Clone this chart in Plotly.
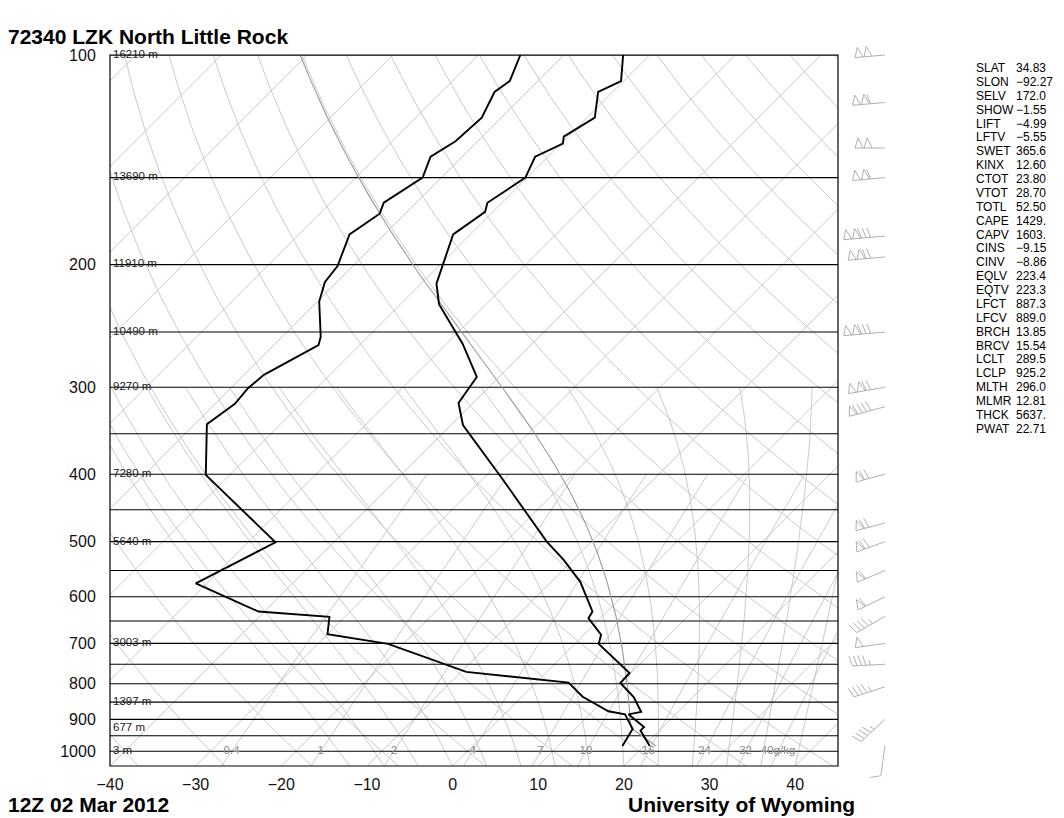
import numpy as np
import plotly.graph_objects as go

# ---- sounding: 72340 LZK 12Z 02 Mar 2012 ----
PRES_T = [983, 934, 923, 885, 878, 836, 798, 772, 701, 680, 644, 630, 610, 571, 531,
          500, 403, 340, 316, 290, 260, 228, 213, 181, 168, 163, 150, 140, 134, 131,
          123, 113, 109, 100]
TEMP = [20.7, 17.8, 17.8, 14.5, 15.7, 13.1, 9.9, 9.8, 2.8, 2.0, -1.4, -1.7, -3.3, -6.6, -11.1,
        -15.2, -28.2, -38.6, -41.7, -42.6, -48.1, -55.5, -58.2, -62.0, -60.9, -61.7, -60.2, -61.5,
        -59.8, -60.5, -59.1, -61.7, -60.3, -63.1]

PRES_TD = [983, 929, 885, 876, 835, 797, 769, 701, 679, 641, 630, 574, 501, 401, 339, 317,
           301, 288, 261, 254, 226, 212, 201, 181, 169, 163, 150, 140, 133, 123, 113, 109, 100]
DWPT = [17.5, 16.7, 14.1, 11.8, 7.1, 3.8, -9.4, -21.8, -30.0, -31.8, -40.7, -51.3, -46.8,
        -62.8, -68.6, -67.7, -68.0, -67.7, -64.8, -65.5, -69.8, -71.4, -71.8, -74.1, -73.0,
        -73.8, -72.2, -73.7, -72.6, -72.3, -73.8, -73.3, -75.1]

# mandatory level heights
HGT_P = [100, 150, 200, 250, 300, 400, 500, 700, 850, 925, 1000]
HGT_LABEL = ['16210 m', '13690 m', '11910 m', '10490 m', '9270 m', '7280 m', '5640 m',
             '3003 m', '1397 m', '677 m', '3 m']

# winds (hPa, deg, knots)
WIND_P = [100, 117, 136, 150, 182, 195, 250, 300, 320, 400, 470, 500, 550, 600, 640,
          700, 750, 808, 900, 983]
WIND_DIR = [265, 265, 270, 265, 265, 265, 265, 260, 255, 255, 255, 250, 247, 244, 240,
            262, 267, 252, 227, 188]
WIND_KT = [100, 110, 100, 110, 130, 120, 130, 120, 90, 70, 70, 70, 60, 60, 45,
           50, 45, 45, 45, 10]

# parcel (from the index table)
LCL_P = 925.2
LCL_T = 289.5
ML_THETA = 296.0

INDEX_NAMES = ['SLAT', 'SLON', 'SELV', 'SHOW', 'LIFT', 'LFTV', 'SWET', 'KINX', 'CTOT',
               'VTOT', 'TOTL', 'CAPE', 'CAPV', 'CINS', 'CINV', 'EQLV', 'EQTV', 'LFCT',
               'LFCV', 'BRCH', 'BRCV', 'LCLT', 'LCLP', 'MLTH', 'MLMR', 'THCK', 'PWAT']
INDEX_VALUES = ['34.83', '\u221292.27', '172.0', '\u22121.55', '\u22124.99', '\u22125.55',
                '365.6', '12.60', '23.80', '28.70', '52.50', '1429.', '1603.', '\u22129.15',
                '\u22128.86', '223.4', '223.3', '887.3', '889.0', '13.85', '15.54', '289.5',
                '925.2', '296.0', '12.81', '5637.', '22.71']

# diagram furniture
ISOBARS = [100, 150, 200, 250, 300, 350, 400, 450, 500, 550, 600, 650, 700, 750, 800,
           850, 900, 950, 1000]
ISOTHERMS = [-120, -110, -100, -90, -80, -70, -60, -50, -40, -30, -20, -10, 0, 10, 20, 30, 40]
DRY_THETA_C = [-40, -30, -20, -10, 0, 10, 20, 30, 40, 50, 60, 70, 80, 90, 100, 110, 120,
               130, 140, 150, 160, 170, 180]
MOIST_T1050 = [-12, -8, -4, 0, 4, 8, 12, 16, 20, 24, 28, 32, 36, 40]
MOIST_TOP = 300
MIX_RATIO = [0.4, 1, 2, 4, 7, 10, 16, 24, 32, 40]
MIX_LABEL = ['0.4', '1', '2', '4', '7', '10', '16', '24', '32', '40g/kg']
P_TICKS = [100, 200, 300, 400, 500, 600, 700, 800, 900, 1000]
T_TICKS = [-40, -30, -20, -10, 0, 10, 20, 30, 40]

P_BOT = 1050.0
PX_DEC = 696.25           # pixels per decade of pressure
SKEW = PX_DEC / 8.565     # 45 degree isotherms
FONT = 'Liberation Sans, Arial, sans-serif'
GRAY = '#c4c4c4'


def skew_x(t, p):
    return np.asarray(t, dtype=float) + SKEW * np.log10(P_BOT / np.asarray(p, dtype=float))


def moist_lapse(tk, p):
    es = 6.112 * np.exp(17.67 * (tk - 273.15) / (tk - 29.65))
    rs = 0.622 * es / (p - es)
    return (287.04 * tk + 2.501e6 * rs) / (1005.7 + 2.501e6 ** 2 * rs * 0.622 / (287.04 * tk ** 2)) / p


def moist_path(tk0, p0, p1, n=160):
    ps = np.geomspace(p0, p1, n)
    tk = tk0
    out = [tk]
    for a, b in zip(ps[:-1], ps[1:]):
        dp = b - a
        k1 = moist_lapse(tk, a)
        k2 = moist_lapse(tk + k1 * dp, b)
        tk = tk + 0.5 * (k1 + k2) * dp
        out.append(tk)
    return ps, np.array(out) - 273.15


def joined(segments):
    xs, ys = [], []
    for x, y in segments:
        xs += list(x) + [None]
        ys += list(y) + [None]
    return xs, ys


def add_lines(segments, color, width, xaxis='x', yaxis='y'):
    xs, ys = joined(segments)
    fig.add_trace(go.Scatter(x=xs, y=ys, mode='lines', line=dict(color=color, width=width),
                             hoverinfo='skip', showlegend=False, xaxis=xaxis, yaxis=yaxis))


fig = go.Figure()

# background lines
segs = [(skew_x([t, t], [P_BOT, 100]), [P_BOT, 100]) for t in ISOTHERMS]
pp = np.geomspace(P_BOT, 100, 90)
for th in DRY_THETA_C:
    t = (th + 273.15) * (pp / 1000.0) ** 0.2857 - 273.15
    segs.append((skew_x(t, pp), pp))
for t0 in MOIST_T1050:
    ps, ts = moist_path(t0 + 273.15, P_BOT, MOIST_TOP)
    segs.append((skew_x(ts, ps), ps))
pm = np.geomspace(P_BOT, 400, 40)
for w in MIX_RATIO:
    e = w * pm / (622.0 + w)
    le = np.log(e / 6.112)
    td = 243.5 * le / (17.67 - le)
    segs.append((skew_x(td, pm), pm))
add_lines(segs, GRAY, 0.9)

# isobars
add_lines([([-40, 45], [p, p]) for p in ISOBARS], 'black', 1.1)

# parcel path
pd_ = np.geomspace(PRES_T[0], LCL_P, 8)
t_dry = ML_THETA * (pd_ / 1000.0) ** 0.2857 - 273.15
ps, ts = moist_path(LCL_T, LCL_P, 100)
add_lines([(skew_x(t_dry, pd_), pd_), (skew_x(ts, ps), ps)], '#9a9a9a', 1.1)

# temperature and dewpoint
for pr, tt in [(PRES_T, TEMP), (PRES_TD, DWPT)]:
    fig.add_trace(go.Scatter(x=skew_x(tt, pr), y=pr, mode='lines',
                             line=dict(color='black', width=1.9), showlegend=False,
                             hoverinfo='skip'))

# height labels
fig.add_trace(go.Scatter(x=[-39.65] * len(HGT_P), y=HGT_P, mode='text', text=HGT_LABEL,
                         textposition='middle right', showlegend=False, hoverinfo='skip',
                         cliponaxis=False,
                         textfont=dict(family=FONT, size=11.5, color='#222')))

# mixing ratio labels at 1000 hPa
e1000 = np.array(MIX_RATIO) * 1000.0 / (622.0 + np.array(MIX_RATIO))
le = np.log(e1000 / 6.112)
td1000 = 243.5 * le / (17.67 - le)
fig.add_trace(go.Scatter(x=skew_x(td1000, [1000] * len(MIX_RATIO)), y=[1000] * len(MIX_RATIO),
                         mode='text', text=MIX_LABEL, textposition='middle center',
                         showlegend=False, hoverinfo='skip',
                         textfont=dict(family=FONT, size=11.5, color='#8a8a8a')))

# wind barbs (drawn in a pixel-scaled column right of the diagram)
STATION_X = 47.0
barb_segs = []
for p0, d, spd in zip(WIND_P, WIND_DIR, WIND_KT):
    r = np.radians(d)
    ux, uy = np.sin(r), np.cos(r)
    nx, ny = uy, -ux
    npen = spd // 50
    rem = spd - 50 * npen
    nfull = rem // 10
    half = (rem - 10 * nfull) >= 5
    L = max(30, 10 + 9 * npen + 4.5 * (nfull + int(half)))

    def pt(s, h):
        return s * ux + h * nx, s * uy + h * ny

    shapes = [[pt(0, 0), pt(L, 0)]]
    s = L
    for _ in range(npen):
        shapes.append([pt(s, 0), pt(s - 3, 10), pt(s - 8, 0)])
        s -= 9
    for _ in range(nfull):
        shapes.append([pt(s, 0), pt(s + 3, 10)])
        s -= 4.5
    if half:
        if npen == 0 and nfull == 0:
            s -= 4.5
        shapes.append([pt(s, 0), pt(s + 1.5, 5)])
    for sh in shapes:
        barb_segs.append(([STATION_X + dx for dx, dy in sh],
                          [p0 * 10 ** (-dy / PX_DEC) for dx, dy in sh]))
add_lines(barb_segs, '#b0b0b0', 1, xaxis='x2', yaxis='y2')

# ---- layout ----
# the page body adds an 8 px offset, so the figure is 8 px smaller and
# all positions below are given in the reference's pixel frame
OFF = 8
W, H = 1064 - OFF, 818 - OFF
PX0, PX1, PY0, PY1 = 110, 964, 30, 788          # paper box in reference pixels
ML, MR, MT, MB = PX0 - OFF, W - (PX1 - OFF), PY0 - OFF, H - (PY1 - OFF)
PW, PH = PX1 - PX0, PY1 - PY0
PLOT_R, PLOT_T, PLOT_B = 838, 55, 766


def paper(xp, yp):
    return (xp - PX0) / PW, (PY1 - yp) / PH


ann = []


def text(xp, yp, s, size, bold=False, color='black'):
    x, y = paper(xp, yp)
    ann.append(dict(x=x, y=y, xref='paper', yref='paper', xanchor='left', yanchor='middle',
                    text='<b>%s</b>' % s if bold else s, showarrow=False,
                    font=dict(family=FONT, size=size, color=color)))


text(6, 36, '72340 LZK North Little Rock', 21, bold=True)
text(6, 804, '12Z 02 Mar 2012', 21, bold=True)
text(626, 804, 'University of Wyoming', 21, bold=True)
for i, (nm, val) in enumerate(zip(INDEX_NAMES, INDEX_VALUES)):
    yy = 68 + i * 13.88
    text(974, yy, nm, 12)
    text(1014, yy, val, 12)

fig.update_layout(
    width=W, height=H,
    margin=dict(l=ML, r=MR, t=MT, b=MB),
    paper_bgcolor='white', plot_bgcolor='white',
    font=dict(family=FONT, color='#111'),
    xaxis=dict(domain=[0, (PLOT_R - PX0) / PW], range=[-40, 45], tickvals=T_TICKS,
               ticktext=[str(t).replace('-', '\u2212') for t in T_TICKS],
               showgrid=False, zeroline=False, showline=False, ticks='outside', ticklen=4,
               tickcolor='rgba(0,0,0,0)', tickfont=dict(size=16, color='#111'), anchor='y'),
    yaxis=dict(type='log', domain=[(PY1 - PLOT_B) / PH, (PY1 - PLOT_T) / PH],
               range=[np.log10(P_BOT), 2], tickvals=P_TICKS, ticktext=[str(p) for p in P_TICKS],
               showgrid=False, zeroline=False, showline=False, ticks='outside', ticklen=10,
               tickcolor='rgba(0,0,0,0)', tickfont=dict(size=16, color='#111'), anchor='x'),
    xaxis2=dict(domain=[(PLOT_R - PX0) / PW, 1], range=[0, PX1 - PLOT_R], visible=False,
                anchor='y2'),
    yaxis2=dict(type='log', domain=[0, 1],
                range=[2 + (PY1 - PLOT_T) / PX_DEC, 2 - (PLOT_T - PY0) / PX_DEC],
                visible=False, anchor='x2'),
    annotations=ann,
    shapes=[dict(type='rect', xref='x domain', yref='y domain', x0=0, x1=1, y0=0, y1=1,
                 line=dict(color='black', width=1.2), layer='above')],
)

fig.write_html('out.html')
